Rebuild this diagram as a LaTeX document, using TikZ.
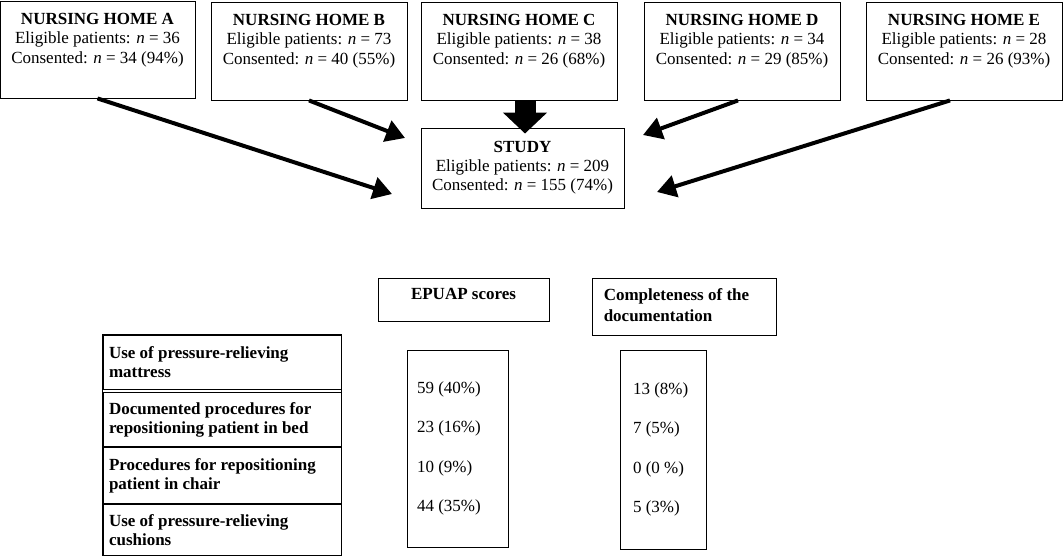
\documentclass[tikz,border=0pt]{standalone}
\usepackage{fontspec}
\setmainfont{Liberation Serif}
\usetikzlibrary{positioning,arrows.meta}

\tikzset{
  homebox/.style={draw, line width=0.9pt, minimum width=196pt, minimum height=98pt, inner sep=0pt},
  hometext/.style={anchor=north, align=center, inner sep=0pt, yshift=-12pt, font=\fontsize{17}{19.5}\selectfont},
  studybox/.style={draw, line width=0.9pt, minimum width=203pt, minimum height=80pt, align=center, inner sep=0pt, font=\fontsize{17}{19}\selectfont},
  headbox/.style={draw, line width=0.9pt, inner sep=0pt},
  headtext/.style={inner sep=0pt, align=flush left, font=\bfseries\fontsize{17}{21}\selectfont},
  rowbox/.style={draw, line width=0.9pt, minimum width=238pt, text width=226pt, inner xsep=6pt, inner ysep=0pt, align=flush left, font=\bfseries\fontsize{17}{19}\selectfont},
  valbox/.style={draw, line width=0.9pt, align=flush left, inner ysep=0pt, font=\fontsize{17}{20}\selectfont},
  flowarrow/.style={line width=4pt, -{Triangle[length=19pt, width=22pt]}},
  blockarrow/.style={line width=21pt, -{Triangle[length=21pt, width=43pt]}}
}

\begin{document}
\begin{tikzpicture}[x=1pt, y=-1pt]
\useasboundingbox (0,0) rectangle (1064,556);

% nursing homes
\node[homebox, minimum width=195pt, minimum height=97pt, label={[hometext]north:{\textbf{NURSING HOME A}\\Eligible patients: \textit{n} = 36\\Consented: \textit{n} = 34 (94\%)}}] (homeA) at (97.5,49.5) {};
\node[homebox, label={[hometext]north:{\textbf{NURSING HOME B}\\Eligible patients: \textit{n} = 73\\Consented: \textit{n} = 40 (55\%)}}] (homeB) at (309,51) {};
\node[homebox, label={[hometext]north:{\textbf{NURSING HOME C}\\Eligible patients: \textit{n} = 38\\Consented: \textit{n} = 26 (68\%)}}] (homeC) at (519,51) {};
\node[homebox, label={[hometext]north:{\textbf{NURSING HOME D}\\Eligible patients: \textit{n} = 34\\Consented: \textit{n} = 29 (85\%)}}] (homeD) at (742,51) {};
\node[homebox, label={[hometext]north:{\textbf{NURSING HOME E}\\Eligible patients: \textit{n} = 28\\Consented: \textit{n} = 26 (93\%)}}] (homeE) at (964,51) {};

% study
\node[studybox] (study) at (522.5,168) {\textbf{STUDY}\\Eligible patients: \textit{n} = 209\\Consented: \textit{n} = 155 (74\%)};

\coordinate (inA) at (392,194);
\coordinate (inB) at (405,138);
\coordinate (inD) at (643,135);
\coordinate (inE) at (657,192);

\draw[flowarrow] (homeA.south) -- (inA);
\draw[flowarrow] (homeB.south) -- (inB);
\draw[flowarrow] ([xshift=-4pt]homeD.south) -- (inD);
\draw[flowarrow] ([xshift=-14pt]homeE.south) -- (inE);
\draw[blockarrow] ([xshift=6pt]homeC.south) -- ([xshift=6pt, yshift=-6pt]homeC.south |- study.north);

% column headers
\node[headbox, minimum width=171pt, minimum height=43pt, label={[headtext, anchor=north, yshift=-11pt]north:{EPUAP scores}}] (epuapHead) at (463.5,299.5) {};
\node[headbox, minimum width=184pt, minimum height=57pt, label={[headtext, anchor=north west, xshift=12pt, yshift=-11pt]north west:{Completeness of the\\documentation}}] (docHead) at (684,306.5) {};

% measures
\node[rowbox, minimum height=54pt] (row1) at (222,362) {Use of pressure-relieving\\mattress};
\node[rowbox, minimum height=54pt, below=3pt of row1] (row2) {Documented procedures for\\repositioning patient in bed};
\node[rowbox, minimum height=56pt, below=0pt of row2] (row3) {Procedures for repositioning\\patient in chair};
\node[rowbox, minimum height=51pt, below=0pt of row3] (row4) {Use of pressure-relieving\\cushions};
\draw[line width=0.9pt] (row1.north west) rectangle (row4.south east);

% results
\node[valbox, minimum width=101pt, minimum height=197pt, text width=81pt, inner xsep=10pt] (epuapVals) at (457.5,448.5) {59 (40\%)\\[19.5pt]23 (16\%)\\[19.5pt]10 (9\%)\\[19.5pt]44 (35\%)};
\node[valbox, minimum width=86pt, minimum height=199pt, text width=60pt, inner xsep=13pt] (docVals) at (663,449.5) {13 (8\%)\\[19.5pt]7 (5\%)\\[19.5pt]0 (0 \%)\\[19.5pt]5 (3\%)};
\end{tikzpicture}
\end{document}
